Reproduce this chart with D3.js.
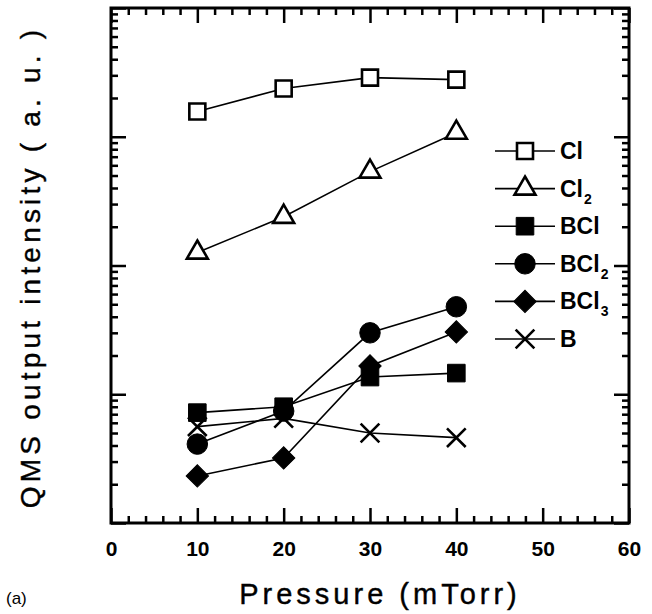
<!DOCTYPE html>
<html>
<head>
<meta charset="utf-8">
<script src="https://cdn.jsdelivr.net/npm/d3@7"></script>
<style>
  body { margin: 0; background: #fff; }
  svg { display: block; }
</style>
</head>
<body>
<script>
// values (y axis is log, arbitrary units)
let pressure = [10, 20, 30, 40];
let cl   = [1570, 2370, 2880, 2780];
let cl2  = [126, 239, 536, 1076];
let bcl  = [7.2, 8.0, 13.6, 14.6];
let bcl2 = [4.1, 7.4, 30.0, 47.8];
let bcl3 = [2.32, 3.2, 16.6, 30.5];
let bb   = [5.6, 6.5, 5.0, 4.6];

let xTicks = [0, 10, 20, 30, 40, 50, 60];
let xMinor = d3.range(0, 61, 2);
let decades = [1, 10, 100, 1000, 10000];

let seriesNames = ["Cl", "Cl2", "BCl", "BCl2", "BCl3", "B"];
let seriesVals = [cl, cl2, bcl, bcl2, bcl3, bb];

let canvasW = 652;
let canvasH = 614;
let plotL = 111, plotR = 629, plotT = 8, plotB = 523;

let svg = d3.select("body").append("svg")
  .attr("width", canvasW)
  .attr("height", canvasH)
  .style("background-color", "#fff");

let x = d3.scaleLinear().domain([0, 60]).range([plotL, plotR]);
let y = d3.scaleLog().domain([1, 10000]).range([plotB, plotT]);

let yMinor = [];
decades.slice(0, 4).forEach(d => { for (let k = 2; k <= 9; k++) yMinor.push(d * k); });

function styleAxis(g) {
  g.select(".domain").remove();
  g.selectAll(".tick line").attr("stroke", "#000").attr("stroke-width", 2.5);
}

// bottom axis with labels
svg.append("g")
  .attr("transform", "translate(0," + plotB + ")")
  .call(d3.axisBottom(x).tickValues(xTicks).tickSize(-15).tickPadding(18).tickSizeOuter(0))
  .call(styleAxis)
  .selectAll("text")
    .attr("font-family", "Liberation Sans, Arial, sans-serif")
    .attr("font-size", "21px")
    .attr("font-weight", "bold")
    .attr("fill", "#000");

svg.append("g")
  .attr("transform", "translate(0," + plotB + ")")
  .call(d3.axisBottom(x).tickValues(xMinor.filter(v => v % 10 != 0)).tickSize(-7).tickFormat("").tickSizeOuter(0))
  .call(styleAxis);

// top axis
svg.append("g")
  .attr("transform", "translate(0," + plotT + ")")
  .call(d3.axisTop(x).tickValues(xTicks).tickSize(-15).tickFormat("").tickSizeOuter(0))
  .call(styleAxis);
svg.append("g")
  .attr("transform", "translate(0," + plotT + ")")
  .call(d3.axisTop(x).tickValues(xMinor.filter(v => v % 10 != 0)).tickSize(-7).tickFormat("").tickSizeOuter(0))
  .call(styleAxis);

// left and right axes (no labels)
svg.append("g")
  .attr("transform", "translate(" + plotL + ",0)")
  .call(d3.axisLeft(y).tickValues(decades).tickSize(-15).tickFormat("").tickSizeOuter(0))
  .call(styleAxis);
svg.append("g")
  .attr("transform", "translate(" + plotL + ",0)")
  .call(d3.axisLeft(y).tickValues(yMinor).tickSize(-7).tickFormat("").tickSizeOuter(0))
  .call(styleAxis);
svg.append("g")
  .attr("transform", "translate(" + plotR + ",0)")
  .call(d3.axisRight(y).tickValues(decades).tickSize(-15).tickFormat("").tickSizeOuter(0))
  .call(styleAxis);
svg.append("g")
  .attr("transform", "translate(" + plotR + ",0)")
  .call(d3.axisRight(y).tickValues(yMinor).tickSize(-7).tickFormat("").tickSizeOuter(0))
  .call(styleAxis);

// frame
svg.append("rect")
  .attr("x", plotL).attr("y", plotT)
  .attr("width", plotR - plotL).attr("height", plotB - plotT)
  .attr("fill", "none")
  .attr("stroke", "#000")
  .attr("stroke-width", 3);

// marker shapes
let markers = [
  { sym: d3.symbolSquare, size: 256, fill: "#fff", rot: 0 },
  { sym: d3.symbolTriangle, size: 190, fill: "#fff", rot: 0 },
  { sym: d3.symbolSquare, size: 310, fill: "#000", rot: 0 },
  { sym: d3.symbolCircle, size: 330, fill: "#000", rot: 0 },
  { sym: d3.symbolSquare, size: 250, fill: "#000", rot: 45 },
  { sym: d3.symbolTimes, size: 230, fill: "none", rot: 0 }
];

let line = d3.line()
  .x((d, i) => x(pressure[i]))
  .y(d => y(d));

// lines first
seriesVals.forEach(vals => {
  svg.append("path")
    .datum(vals)
    .attr("d", line)
    .attr("fill", "none")
    .attr("stroke", "#000")
    .attr("stroke-width", 1.6);
});

// then markers
seriesVals.forEach((vals, s) => {
  let m = markers[s];
  svg.selectAll()
    .data(vals)
    .enter()
      .append("path")
        .attr("d", d3.symbol().type(m.sym).size(m.size))
        .attr("transform", (d, i) => "translate(" + x(pressure[i]) + "," + y(d) + ") rotate(" + m.rot + ")")
        .attr("fill", m.fill)
        .attr("stroke", "#000")
        .attr("stroke-width", m.fill == "#000" ? 1 : 2.6);
});

// legend
let legX = 525;
seriesNames.forEach((name, i) => {
  let ly = 151 + i * 37.6;
  let m = markers[i];
  let g = svg.append("g");
  g.append("line").attr("x1", 495).attr("x2", 555).attr("y1", ly).attr("y2", ly)
    .attr("stroke", "#000").attr("stroke-width", 1.6);
  g.append("path")
    .attr("d", d3.symbol().type(m.sym).size(m.size))
    .attr("transform", "translate(" + legX + "," + ly + ") rotate(" + m.rot + ")")
    .attr("fill", m.fill)
    .attr("stroke", "#000")
    .attr("stroke-width", m.fill == "#000" ? 1 : 2.6);
  let base = name.replace(/[0-9]/g, "");
  let sub = name.replace(/[^0-9]/g, "");
  let t = g.append("text")
    .attr("x", 560)
    .attr("y", ly + 8)
    .attr("font-family", "Liberation Sans, Arial, sans-serif")
    .attr("font-size", "23px")
    .attr("font-weight", "bold")
    .attr("fill", "#000")
    .text(base);
  if (sub) {
    t.append("tspan")
      .attr("font-size", "14px")
      .attr("dy", 7)
      .attr("dx", 1)
      .text(sub);
  }
});

// axis titles
svg.append("text")
  .attr("x", 380)
  .attr("y", 604)
  .attr("text-anchor", "middle")
  .attr("font-family", "Liberation Sans, Arial, sans-serif")
  .attr("font-size", "29px")
  .attr("letter-spacing", "4px")
  .attr("fill", "#000")
  .attr("stroke", "#000")
  .attr("stroke-width", 0.4)
  .text("Pressure (mTorr)");

svg.append("text")
  .attr("text-anchor", "middle")
  .attr("font-family", "Liberation Sans, Arial, sans-serif")
  .attr("font-size", "28px")
  .attr("letter-spacing", "4.2px")
  .attr("fill", "#000")
  .attr("stroke", "#000")
  .attr("stroke-width", 0.4)
  .attr("transform", "translate(40,267) rotate(-90)")
  .text("QMS output intensity ( a. u. )");

svg.append("text")
  .attr("x", 6)
  .attr("y", 604)
  .attr("font-family", "Liberation Sans, Arial, sans-serif")
  .attr("font-size", "17px")
  .attr("fill", "#000")
  .text("(a)");
</script>
</body>
</html>
